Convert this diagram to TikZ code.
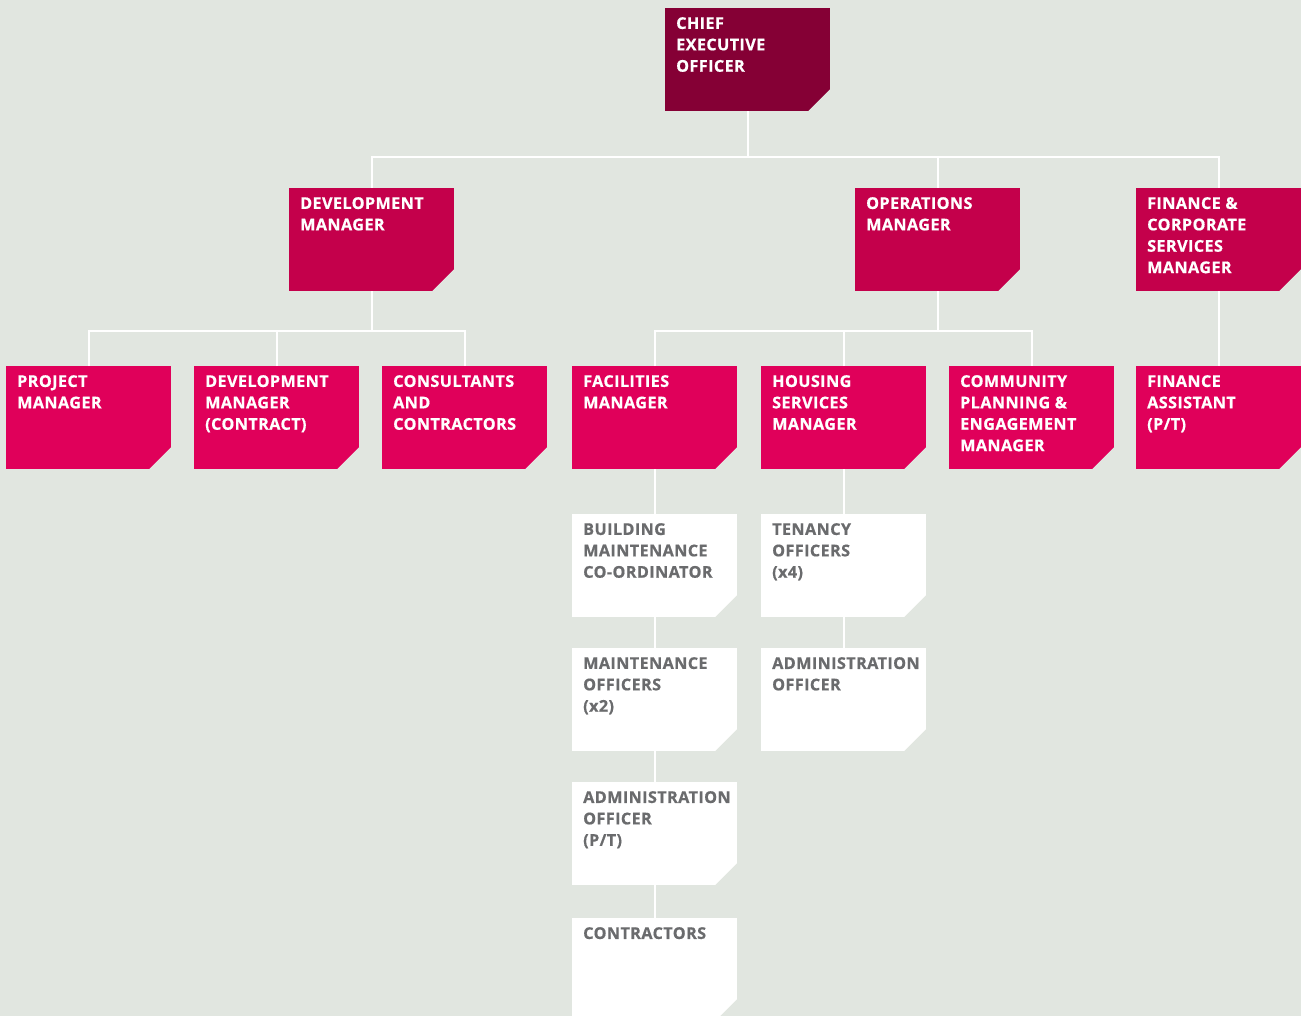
\documentclass[tikz,border=0pt]{standalone}
\usepackage{fontspec}
\newfontfamily\boxfont[LetterSpace=2.5,BoldFeatures={FakeBold=0.6}]{Open Sans}
\definecolor{bgc}{HTML}{E1E6E0}
\definecolor{ceoc}{HTML}{850035}
\definecolor{lvltwo}{HTML}{C4004B}
\definecolor{lvlthree}{HTML}{E0005A}
\definecolor{greytxt}{HTML}{6A6B6D}
\newcommand{\boxtext}[1]{\begin{minipage}[c][85pt][t]{143pt}\raggedright #1\end{minipage}}
\begin{document}
\begin{tikzpicture}[x=1pt,y=-1pt,
  orgbox/.style={rectangle, anchor=north west, inner xsep=11pt, inner ysep=9pt,
    minimum width=165pt, minimum height=103pt, align=left,
    font=\boxfont\bfseries\fontsize{16.2}{21.4}\selectfont,
    path picture={\fill[bgc] ([xshift=1pt,yshift=-1pt]path picture bounding box.south east) -- ++(-24,0) -- ++(24,-24) -- cycle;}},
  ceobox/.style={orgbox, fill=ceoc, text=white},
  mgrbox/.style={orgbox, fill=lvltwo, text=white},
  subbox/.style={orgbox, fill=lvlthree, text=white},
  staffbox/.style={orgbox, fill=white, text=greytxt},
  conn/.style={draw=white, line width=2.2pt}]
\fill[bgc] (0,0) rectangle (1301,1016);
\useasboundingbox (0,0) rectangle (1301,1016);
% level 1
\node[ceobox] (ceo) at (665,8) {\boxtext{CHIEF\\EXECUTIVE\\OFFICER}};
% level 2
\node[mgrbox] (dev) at (289,188) {\boxtext{DEVELOPMENT\\MANAGER}};
\node[mgrbox] (ops) at (855,188) {\boxtext{OPERATIONS\\MANAGER}};
\node[mgrbox] (fin) at (1136,188) {\boxtext{FINANCE \&\\CORPORATE\\SERVICES\\MANAGER}};
% level 3
\node[subbox] (pm) at (6,366) {\boxtext{PROJECT\\MANAGER}};
\node[subbox] (dmc) at (194,366) {\boxtext{DEVELOPMENT\\MANAGER\\(CONTRACT)}};
\node[subbox] (cons) at (382,366) {\boxtext{CONSULTANTS\\AND\\CONTRACTORS}};
\node[subbox] (fac) at (572,366) {\boxtext{FACILITIES\\MANAGER}};
\node[subbox] (hsm) at (761,366) {\boxtext{HOUSING\\SERVICES\\MANAGER}};
\node[subbox] (cpe) at (949,366) {\boxtext{COMMUNITY\\PLANNING \&\\ENGAGEMENT\\MANAGER}};
\node[subbox] (fa) at (1136,366) {\boxtext{FINANCE\\ASSISTANT\\(P/T)}};
% staff
\node[staffbox] (bmc) at (572,514) {\boxtext{BUILDING\\MAINTENANCE\\CO-ORDINATOR}};
\node[staffbox] (mo) at (572,648) {\boxtext{MAINTENANCE\\OFFICERS\\(x2)}};
\node[staffbox] (aopt) at (572,782) {\boxtext{ADMINISTRATION\\OFFICER\\(P/T)}};
\node[staffbox] (con) at (572,918) {\boxtext{CONTRACTORS}};
\node[staffbox] (ten) at (761,514) {\boxtext{TENANCY\\OFFICERS\\(x4)}};
\node[staffbox] (ao) at (761,648) {\boxtext{ADMINISTRATION\\OFFICER}};
% connectors
\coordinate (busa) at (747,157);
\coordinate (busb) at (372,331);
\coordinate (busc) at (938,331);
\draw[conn] (ceo.south) -- (ceo.south |- busa);
\draw[conn] (dev.north) |- (fin.north |- busa) -- (fin.north);
\draw[conn] (ops.north) -- (ops.north |- busa);
\draw[conn] (dev.south) -- (dev.south |- busb);
\draw[conn] (pm.north) |- (cons.north |- busb) -- (cons.north);
\draw[conn] (dmc.north) -- (dmc.north |- busb);
\draw[conn] (ops.south) -- (ops.south |- busc);
\draw[conn] (fac.north) |- (cpe.north |- busc) -- (cpe.north);
\draw[conn] (hsm.north) -- (hsm.north |- busc);
\draw[conn] (fin.south) -- (fa.north);
\draw[conn] (fac.south) -- (bmc.north);
\draw[conn] (bmc.south) -- (mo.north);
\draw[conn] (mo.south) -- (aopt.north);
\draw[conn] (aopt.south) -- (con.north);
\draw[conn] (hsm.south) -- (ten.north);
\draw[conn] (ten.south) -- (ao.north);
\end{tikzpicture}
\end{document}
